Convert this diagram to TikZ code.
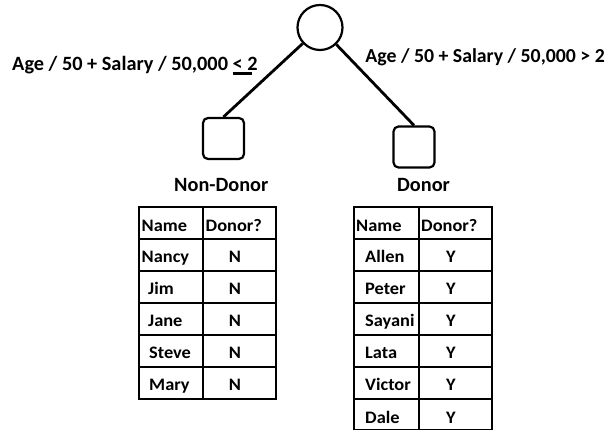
\documentclass[tikz,border=0pt]{standalone}
\usepackage{fontspec}
\setmainfont{Carlito}
\newfontfamily\tabfont{Carlito}[FakeStretch=1.05]
\begin{document}
\begin{tikzpicture}[x=1pt,y=-1pt,
  lbl/.style={font=\fontsize{20.3}{23}\selectfont\bfseries, inner sep=0, anchor=base west},
  cell/.style={font=\tabfont\fontsize{17.5}{20}\selectfont\bfseries, inner sep=0, anchor=base west},
  val/.style={font=\tabfont\fontsize{17.5}{20}\selectfont\bfseries, inner sep=0, anchor=base},
  edgeline/.style={line width=2.8pt},
  leaf/.style={draw, line width=2.2pt, rounded corners=5pt, minimum size=41pt, inner sep=0},
  rootnode/.style={draw, circle, line width=2.2pt, minimum size=45pt, inner sep=0},
  grid/.style={line width=1.8pt}]
\useasboundingbox (0,0) rectangle (608,430);
% tree
\node[rootnode] (root) at (320,27.5) {};
\node[leaf] (nd) at (223.5,138.5) {};
\node[leaf] (dn) at (414,147) {};
\draw[edgeline] (root) -- (nd.north);
\draw[edgeline] (root) -- (dn.north);
\node[lbl] (ll) at (12,71) {Age / 50 + Salary / 50,000 \rlap{\rule[-4pt]{19pt}{3pt}}<\ 2};
\node[lbl, font=\fontsize{19.8}{23}\selectfont\bfseries, anchor=base east] (rl) at (605,63) {Age / 50 + Salary / 50,000 > 2};
\node[lbl] (ndl) at (174,192) {Non-Donor};
\node[lbl] (dnl) at (397,192) {Donor};
% left table
\draw[grid] (139,207) rectangle (276,399);
\draw[grid] (203,207) -- (203,399);
\foreach \y in {239,271,303,335,367} \draw[grid] (139,\y) -- (276,\y);
\node[cell] (lh1) at (141.5,232) {Name};
\node[cell] (lh2) at (205.5,232) {Donor?};
\node[cell] (l1) at (141.5,263) {Nancy};
\node[cell] (l2) at (148,295) {Jim};
\node[cell] (l3) at (148,327) {Jane};
\node[cell] (l4) at (149,359) {Steve};
\node[cell] (l5) at (149,391) {Mary};
\foreach \y/\n in {263/1,295/2,327/3,359/4,391/5} \node[val] (lv\n) at (235,\y) {N};
% right table
\draw[grid] (354,207) rectangle (492,429.5);
\draw[grid] (419,207) -- (419,429.5);
\foreach \y in {239,271,303,335,367,399} \draw[grid] (354,\y) -- (492,\y);
\node[cell] (rh1) at (356,232) {Name};
\node[cell] (rh2) at (421,232) {Donor?};
\node[cell] (r1) at (365,263) {Allen};
\node[cell] (r2) at (365,295) {Peter};
\node[cell] (r3) at (365,327) {Sayani};
\node[cell] (r4) at (365,359) {Lata};
\node[cell] (r5) at (365,391) {Victor};
\node[cell] (r6) at (365,423) {Dale};
\foreach \y/\n in {263/1,295/2,327/3,359/4,391/5,423/6} \node[val] (rv\n) at (451,\y) {Y};
\end{tikzpicture}
\end{document}
